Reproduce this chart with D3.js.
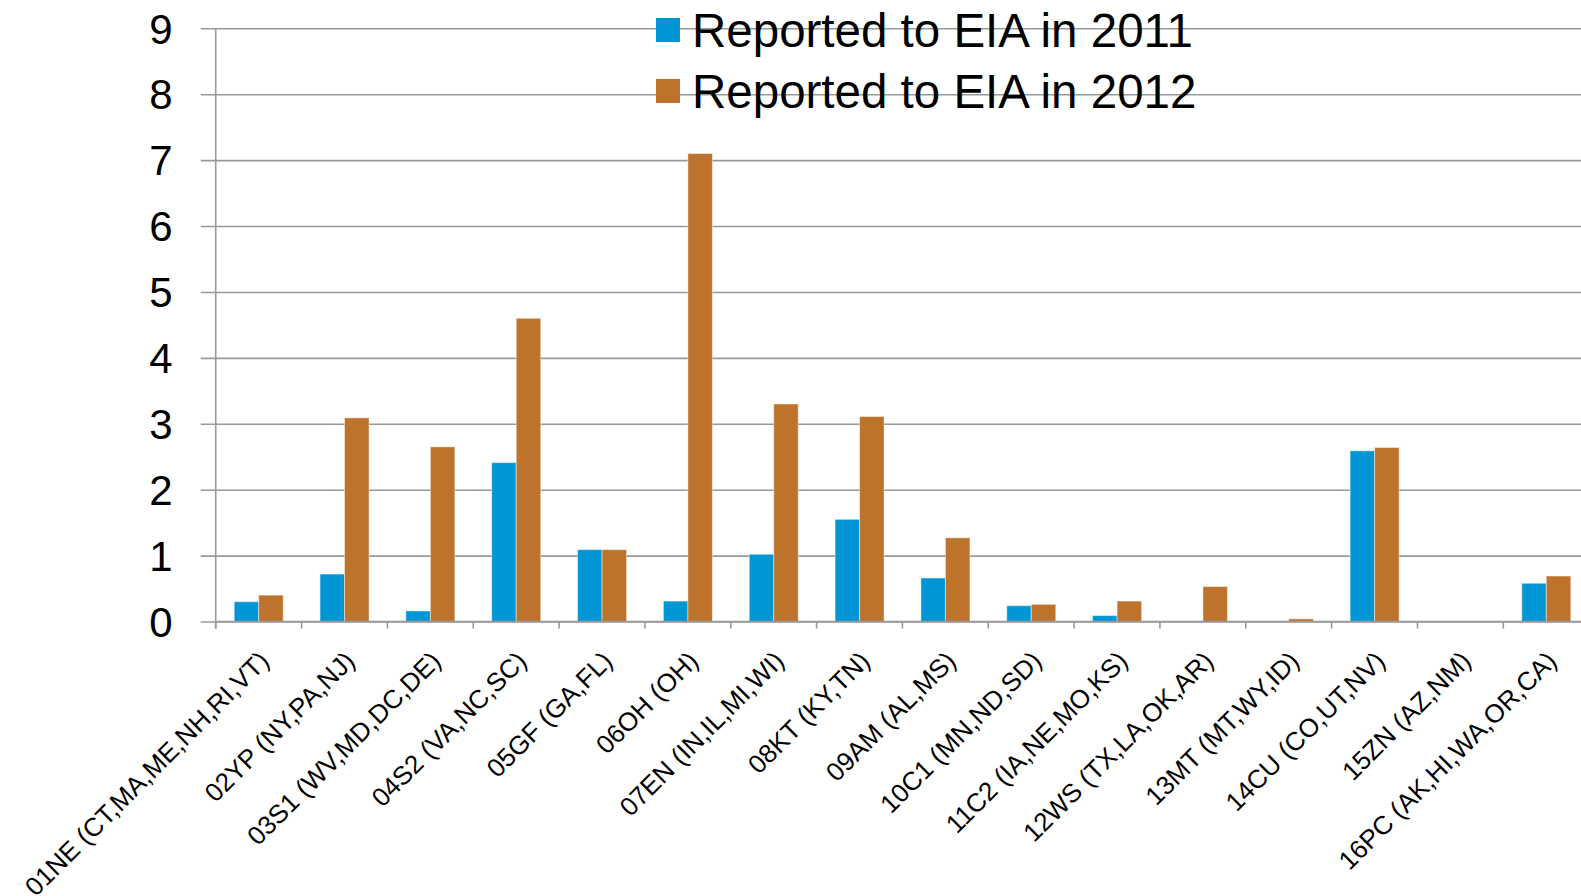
<!DOCTYPE html>
<html>
<head>
<meta charset="utf-8">
<script src="https://cdn.jsdelivr.net/npm/d3@7"></script>
<style>
  body { margin: 0; background: #fff; }
  text { font-family: "Liberation Sans", Arial, sans-serif; fill: #000; }
</style>
</head>
<body>
<script>
var regions = ['01NE (CT,MA,ME,NH,RI,VT)', '02YP (NY,PA,NJ)', '03S1 (WV,MD,DC,DE)', '04S2 (VA,NC,SC)',
  '05GF (GA,FL)', '06OH (OH)', '07EN (IN,IL,MI,WI)', '08KT (KY,TN)', '09AM (AL,MS)', '10C1 (MN,ND,SD)',
  '11C2 (IA,NE,MO,KS)', '12WS (TX,LA,OK,AR)', '13MT (MT,WY,ID)', '14CU (CO,UT,NV)', '15ZN (AZ,NM)',
  '16PC (AK,HI,WA,OR,CA)']
var eia2011 = [0.30, 0.72, 0.16, 2.41, 1.09, 0.31, 1.02, 1.55, 0.66, 0.24, 0.09, 0, 0, 2.59, 0, 0.58]
var eia2012 = [0.40, 3.09, 2.65, 4.60, 1.09, 7.10, 3.30, 3.11, 1.27, 0.26, 0.31, 0.53, 0.04, 2.64, 0, 0.69]
var seriesNames = ['Reported to EIA in 2011', 'Reported to EIA in 2012']
var yTicks = [0, 1, 2, 3, 4, 5, 6, 7, 8, 9]

var colors = ['#0096d6', '#bd732b']
var W = 1581, H = 896

var svg = d3.select(document.body).append('svg')
  .attr('width', W).attr('height', H)

var x0 = d3.scaleBand().domain(regions).range([215.7, 215.7 + 16 * 85.84])
var x1 = d3.scaleBand().domain(seriesNames).range([18.5, 67.5])
var y = d3.scaleLinear().domain([0, 9]).range([621.5, 28.3])

// gridlines + y labels
var yAxis = svg.append('g').attr('transform', 'translate(215.7,0)')
  .call(d3.axisLeft(y).tickValues(yTicks).tickSize(-(W - 215.7)).tickSizeOuter(0).tickPadding(0))
yAxis.select('.domain').remove()
yAxis.selectAll('.tick line').attr('stroke', '#999').attr('stroke-width', 1.6).attr('x1', -15)
yAxis.selectAll('.tick text').attr('x', -43).attr('dy', '0.35em')
  .style('font-size', '42px').attr('fill', '#000')

// bars
var groups = svg.selectAll('g.cat').data(regions).enter().append('g')
  .attr('class', 'cat')
  .attr('transform', function(d) { return 'translate(' + x0(d) + ',0)' })

groups.selectAll('rect').data(function(d, i) {
    return [eia2011[i], eia2012[i]].map(function(v, j) { return {s: seriesNames[j], v: v, j: j} })
  })
  .enter().append('rect')
  .attr('x', function(d) { return x1(d.s) })
  .attr('width', x1.bandwidth())
  .attr('y', function(d) { return y(d.v) })
  .attr('height', function(d) { return y(0) - y(d.v) })
  .attr('fill', function(d) { return colors[d.j] })
  .attr('stroke', 'rgba(255,255,255,0.45)')
  .attr('stroke-width', 1)

// x axis
var xAxis = svg.append('g').attr('transform', 'translate(0,' + y(0) + ')')
xAxis.append('line').attr('x1', 215.7).attr('x2', W).attr('stroke', '#999').attr('stroke-width', 1.6)
xAxis.selectAll('line.tk').data(d3.range(17)).enter().append('line')
  .attr('class', 'tk')
  .attr('x1', function(d) { return 215.7 + d * x0.step() })
  .attr('x2', function(d) { return 215.7 + d * x0.step() })
  .attr('y1', 0).attr('y2', 7)
  .attr('stroke', '#999').attr('stroke-width', 1.6)

// y axis line
svg.append('line').attr('x1', 215.7).attr('x2', 215.7).attr('y1', y(9)).attr('y2', y(0) + 7)
  .attr('stroke', '#999').attr('stroke-width', 1.6)

// category labels
svg.selectAll('text.cat').data(regions).enter().append('text')
  .attr('class', 'cat')
  .attr('text-anchor', 'end')
  .style('font-size', '26px')
  .attr('transform', function(d) {
    return 'translate(' + (x0(d) + x0.bandwidth() / 2 + 12) + ',' + (y(0) + 41) + ') rotate(-45)'
  })
  .text(function(d) { return d })

// legend
var legend = svg.selectAll('g.leg').data(seriesNames).enter().append('g')
  .attr('class', 'leg')
  .attr('transform', function(d, i) { return 'translate(656,' + (30 + i * 61) + ')' })
legend.append('rect').attr('x', 0).attr('y', -12).attr('width', 24).attr('height', 24)
  .attr('fill', function(d, i) { return colors[i] })
legend.append('text').attr('x', 36).attr('dy', '0.36em').style('font-size', '47.5px')
  .text(function(d) { return d })
</script>
</body>
</html>
